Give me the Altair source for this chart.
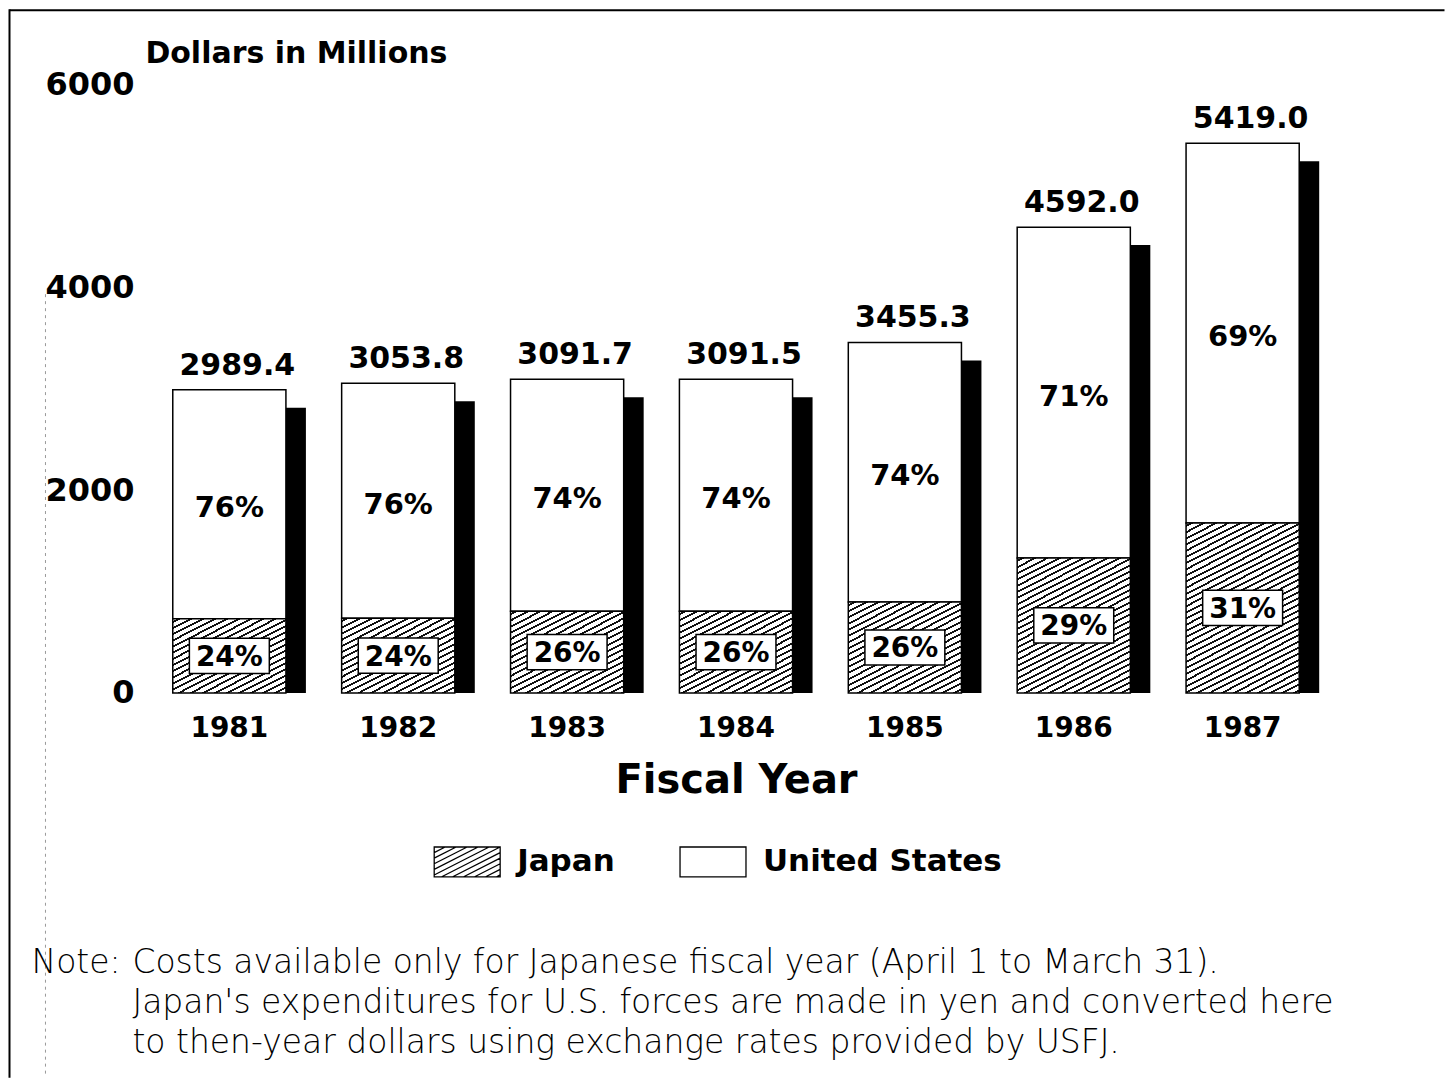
import math
import altair as alt
import pandas as pd

# ---------------- data ----------------
years = ["1981", "1982", "1983", "1984", "1985", "1986", "1987"]
totals = [2989.4, 3053.8, 3091.7, 3091.5, 3455.3, 4592.0, 5419.0]
total_labels = ["2989.4", "3053.8", "3091.7", "3091.5", "3455.3", "4592.0", "5419.0"]
japan = [730, 735, 805, 805, 895, 1330, 1675]
japan_pct = ["24%", "24%", "26%", "26%", "26%", "29%", "31%"]
us_pct = ["76%", "76%", "74%", "74%", "74%", "71%", "69%"]
series = ["Japan", "United States"]
y_ticks = [0, 2000, 4000, 6000]
y_title = "Dollars in Millions"
x_title = "Fiscal Year"
note_head = "Note:"
note_lines = [
    "Costs available only for Japanese fiscal year (April 1 to March 31).",
    "Japan's expenditures for U.S. forces are made in yen and converted here",
    "to then-year dollars using exchange rates provided by USFJ.",
]

df = pd.DataFrame({
    "year": years,
    "total": totals,
    "total_label": total_labels,
    "japan": japan,
    "japan_pct": japan_pct,
    "us_pct": us_pct,
})

# ---------------- layout / style ----------------
W, H = 1183, 609
P_IN, P_OUT = 0.33, 0.165
FONT = "DejaVu Sans"
bw = W / 7 * (1 - P_IN)

# hatch fill (diagonal lines) built as a sharp-stop linear gradient
theta = math.radians(27)
S, C = math.sin(theta), math.cos(theta)
PERIOD, LW = 5.5, 1.8


def hatch(h, w=bw):
    D = w * S + h * C
    lam = D / (w * w * S * S + h * h * C * C)
    a, b = lam * w * S, lam * h * C
    stops = [{"offset": 0, "color": "white"}]
    k = 0
    while True:
        o1 = (k * PERIOD + (PERIOD - LW) / 2) / D
        o2 = (k * PERIOD + (PERIOD + LW) / 2) / D
        if o1 >= 1:
            break
        o2 = min(o2, 1.0)
        o1, o2 = round(o1, 5), round(o2, 5)
        stops += [
            {"offset": o1, "color": "white"},
            {"offset": o1, "color": "#111111"},
            {"offset": o2, "color": "#111111"},
            {"offset": o2, "color": "white"},
        ]
        k += 1
    stops.append({"offset": 1, "color": "white"})
    return alt.LinearGradient(gradient="linear", stops=stops, x1=0, y1=0, x2=a, y2=b)


# legend symbol paths (unit coordinates, scaled by Vega)
R = 15 / 33
rect_path = f"M-1,{-R:.4f}L1,{-R:.4f}L1,{R:.4f}L-1,{R:.4f}Z"
t = math.tan(theta)
dc = 5.6 / 33
segs = []
cc = -R - t
while cc < R + t:
    xa = max(-1.0, (cc - R) / t)
    xb = min(1.0, (cc + R) / t)
    if xb > xa:
        segs.append(f"M{xa:.4f},{cc - t * xa:.4f}L{xb:.4f},{cc - t * xb:.4f}")
    cc += dc
hatch_path = rect_path + "".join(segs)
box_path = "M-1,-0.44L1,-0.44L1,0.44L-1,0.44Z"

x_enc = alt.X(
    "year:N",
    title=x_title,
    scale=alt.Scale(paddingInner=P_IN, paddingOuter=P_OUT),
    axis=alt.Axis(
        labelAngle=0, ticks=False, domain=False, grid=False,
        labelPadding=22, labelFont=FONT, labelFontSize=28, labelFontWeight="bold",
        labelColor="black", titleFont=FONT, titleFontSize=40, titleFontWeight="bold",
        titleColor="black", titleY=100, titleBaseline="alphabetic",
    ),
)

y_scale = alt.Scale(domain=[0, 6000], nice=False)
y_axis = alt.Axis(
    values=y_ticks, format="d", ticks=False, domain=False, grid=False,
    labelPadding=11, labelFont=FONT, labelFontSize=32, labelFontWeight="bold",
    labelColor="black", titleFont=FONT, titleFontSize=30, titleFontWeight="bold",
    titleColor="black", titleAngle=0, titleAlign="left", titleBaseline="alphabetic",
    titleX=0, titleY=-22,
)


def Y(field):
    return alt.Y(field, title=y_title, scale=y_scale, axis=y_axis)


base = alt.Chart(df).transform_calculate(
    japan_mid="datum.japan / 2",
    us_mid="(datum.japan + datum.total) / 2",
)

one = alt.Chart(pd.DataFrame({"k": [0]}))

frame_top = one.mark_rule(color="black", strokeWidth=2).encode(
    x=alt.value(-135.5), x2=alt.value(1300.5), y=alt.value(-74)
)
frame_left = one.mark_rule(color="black", strokeWidth=2).encode(
    x=alt.value(-135.5), y=alt.value(-75), y2=alt.value(994)
)
scan_line = one.mark_rule(color="#9a9a9a", strokeWidth=1, strokeDash=[3, 4]).encode(
    x=alt.value(-99.5), y=alt.value(210), y2=alt.value(994)
)

shadow = base.mark_bar(color="black", xOffset=20, yOffset=18, y2Offset=0).encode(
    x=x_enc, y=Y("total:Q"), y2=alt.datum(0)
)
us_bar = base.mark_bar(fill="white", stroke="black", strokeWidth=1.5).encode(
    x=x_enc, y=Y("total:Q"), y2="japan:Q"
)
japan_bars = []
for yr, jv in zip(years, japan):
    japan_bars.append(
        base.transform_filter(alt.datum.year == yr)
        .mark_bar(fill=hatch(jv * H / 6000), stroke="black", strokeWidth=1.5)
        .encode(x=x_enc, y=Y("japan:Q"))
    )

total_text = base.mark_text(
    dy=-15, dx=8, baseline="alphabetic", font=FONT, fontSize=30,
    fontWeight="bold", color="black",
).encode(x=x_enc, y=Y("total:Q"), text="total_label:N")

us_text = base.mark_text(
    dy=4, baseline="middle", font=FONT, fontSize=29, fontWeight="bold", color="black"
).encode(x=x_enc, y=Y("us_mid:Q"), text="us_pct:N")

jp_box = base.mark_point(
    shape=box_path, size=6400, filled=True, fill="white", stroke="black",
    strokeWidth=1.5, opacity=1,
).encode(x=x_enc, y=Y("japan_mid:Q"))

jp_text = base.mark_text(
    dy=2, baseline="middle", font=FONT, fontSize=28, fontWeight="bold", color="black"
).encode(x=x_enc, y=Y("japan_mid:Q"), text="japan_pct:N")

legend_pts = alt.Chart(pd.DataFrame({"series": series})).mark_point(
    opacity=0, filled=False, color="black"
).encode(
    shape=alt.Shape(
        "series:N",
        scale=alt.Scale(domain=series, range=[hatch_path, rect_path]),
        legend=alt.Legend(
            title=None, orient="none", legendX=288.5, legendY=744,
            direction="horizontal", symbolSize=4356, symbolStrokeWidth=1.3,
            symbolStrokeColor="black", symbolFillColor="white", symbolOpacity=1,
            labelFont=FONT, labelFontSize=31, labelFontWeight="bold",
            labelColor="black", labelOffset=16, columnPadding=62, padding=0,
            labelLimit=500,
        ),
    )
)

note_h = one.mark_text(
    align="left", baseline="alphabetic", font=FONT, fontSize=33, fontWeight=200,
    color="black", text=note_head,
).encode(x=alt.value(-113.5), y=alt.value(889))
note_b = one.mark_text(
    align="left", baseline="alphabetic", font=FONT, fontSize=33, fontWeight=200,
    color="black", lineHeight=40, text=note_lines,
).encode(x=alt.value(-12.5), y=alt.value(889))

chart = alt.layer(
    frame_top, frame_left, scan_line, shadow, us_bar, *japan_bars,
    total_text, us_text, jp_box, jp_text, legend_pts, note_h, note_b,
).properties(width=W, height=H, padding=0, background="white").configure_view(stroke=None)

chart.save("out.html", embed_options={"renderer": "svg", "actions": False})
